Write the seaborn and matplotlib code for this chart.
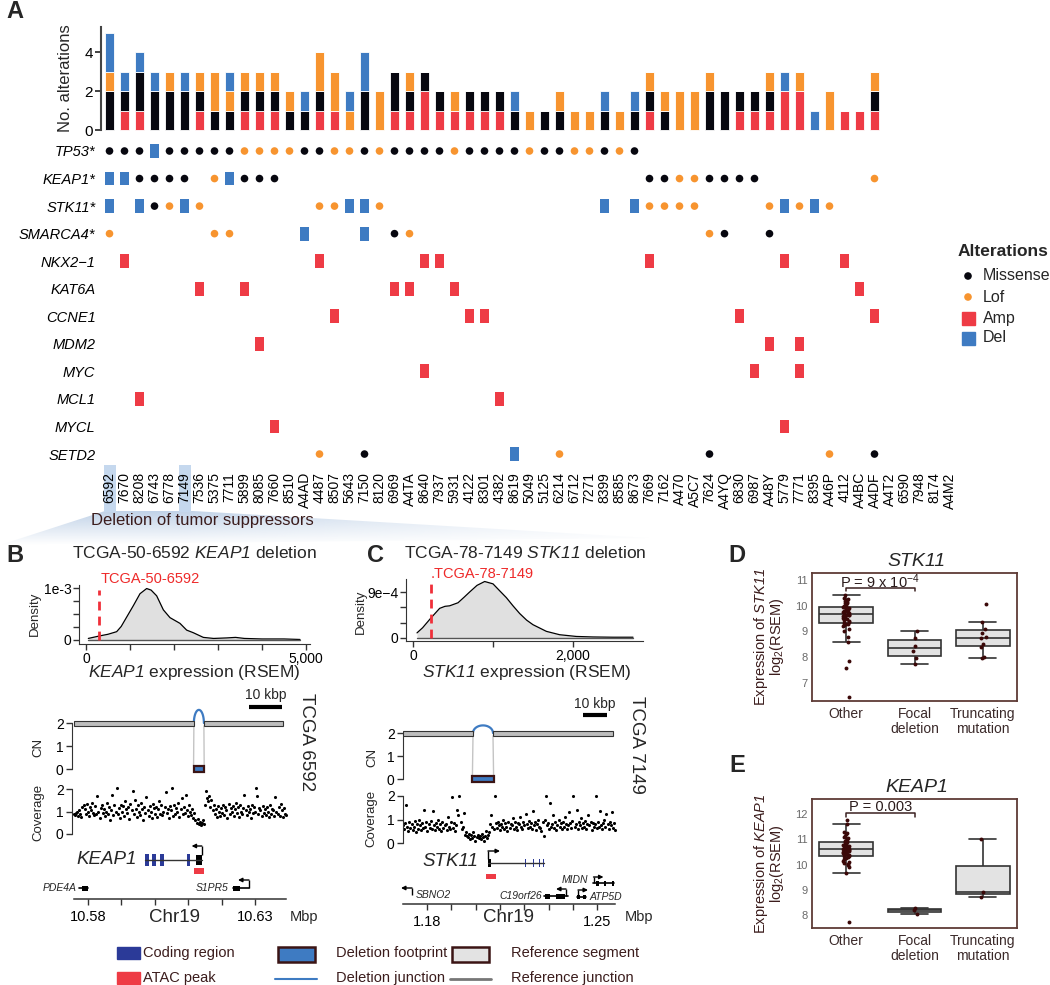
import numpy as np
import pandas as pd
import matplotlib
matplotlib.use("Agg")
import matplotlib.pyplot as plt
import seaborn as sns
from matplotlib.patches import Rectangle, Polygon
from matplotlib.path import Path
from matplotlib import font_manager

# ======================= DATA =======================
# ---- Panel A ----
samples = ["6592", "7670", "8208", "6743", "6778", "7149", "7536", "5375", "7711", "5899",
           "8085", "7660", "8510", "A4AD", "4487", "8507", "5643", "7150", "8120", "6969",
           "A4TA", "8640", "7937", "5931", "4122", "8301", "4382", "8619", "5049", "5125",
           "6214", "6712", "7271", "8399", "8585", "8673", "7669", "7162", "A470", "A5C7",
           "7624", "A4YQ", "6830", "6987", "A48Y", "5779", "7771", "8395", "A46P", "4112",
           "A4BC", "A4DF", "A4T2", "6590", "7948", "8174", "A4M2"]
amp_n = [0, 1, 1, 0, 0, 0, 1, 0, 0, 1, 1, 1, 0, 0, 1, 1, 0, 0, 0, 1,
         1, 2, 1, 1, 1, 1, 1, 0, 0, 0, 0, 0, 0, 0, 0, 0, 1, 0, 0, 0,
         0, 0, 1, 1, 1, 2, 2, 0, 0, 1, 1, 1, 0, 0, 0, 0, 0]
mis_n = [2, 1, 2, 2, 2, 2, 1, 1, 1, 1, 1, 1, 1, 1, 1, 0, 0, 2, 0, 2,
         1, 1, 1, 0, 1, 1, 1, 1, 0, 1, 1, 0, 0, 1, 0, 1, 1, 1, 0, 0,
         2, 2, 1, 1, 1, 0, 0, 0, 0, 0, 0, 1, 0, 0, 0, 0, 0]
lof_n = [1, 0, 0, 0, 1, 0, 1, 2, 1, 1, 1, 1, 1, 0, 2, 2, 1, 0, 2, 0,
         1, 0, 0, 1, 0, 0, 0, 0, 1, 0, 1, 1, 1, 0, 1, 0, 1, 1, 2, 2,
         1, 0, 0, 0, 1, 0, 1, 0, 2, 0, 0, 1, 0, 0, 0, 0, 0]
del_n = [2, 1, 1, 1, 0, 1, 0, 0, 1, 0, 0, 0, 0, 1, 0, 0, 1, 2, 0, 0,
         0, 0, 0, 0, 0, 0, 0, 1, 0, 0, 0, 0, 0, 1, 0, 1, 0, 0, 0, 0,
         0, 0, 0, 0, 0, 1, 0, 1, 0, 0, 0, 0, 0, 0, 0, 0, 0]
highlight_samples = ["6592", "7149"]
onco_genes = ["TP53*", "KEAP1*", "STK11*", "SMARCA4*", "NKX2\u22121", "KAT6A",
              "CCNE1", "MDM2", "MYC", "MCL1", "MYCL", "SETD2"]
# M = missense, L = loss of function, A = amplification, D = deletion
onco_calls = [
    "MMMDMMMMML" "LLLMMLLMLM" "MMMLMMMMLM" "MLLMLM...." ".........." ".......",
    "DDMMMM.LDM" "MM........" ".........." "......MMLL" "MMMM......" ".L.....",
    "D.DMLDL..." "....LLDDL." ".........." "...D.DLLLL" "....LDLDL." ".......",
    "L......LL." "...D...D.M" "L........." ".........." "LM..M....." ".......",
    ".A........" "....A....." ".AA......." "......A..." ".....A...A" ".......",
    "......A..A" ".........A" "A..A......" ".........." ".........." "A......",
    ".........." ".....A...." "....AA...." ".........." "..A......." ".A.....",
    ".........." "A........." ".........." ".........." "....A.A..." ".......",
    ".........." ".........." ".A........" ".........." "...A..A..." ".......",
    "..A......." ".........." "......A..." ".........." ".........." ".......",
    ".........." ".A........" ".........." ".........." ".....A...." ".......",
    ".........." "....L..M.." ".......D.." "L........." "M.......L." ".M.....",
]

# ---- Panel B / C density (expression in RSEM, density values) ----
keap1_expr = [53, 318, 500, 697, 800, 924, 1076, 1227, 1379, 1480, 1606, 1758, 1909,
              2136, 2288, 2439, 2667, 2900, 3200, 3400, 3600, 4000, 4500, 4864]
keap1_dens = [0.03, 0.08, 0.11, 0.16, 0.26, 0.44, 0.66, 0.89, 0.99, 0.96, 0.85, 0.58, 0.43,
              0.32, 0.19, 0.14, 0.05, 0.03, 0.04, 0.05, 0.03, 0.02, 0.02, 0.01]  # x1e-3
keap1_sample = 300
stk11_expr = [50, 120, 221, 333, 400, 458, 563, 640, 708, 800, 896, 1000, 1080, 1167, 1250,
              1333, 1420, 1500, 1667, 1833, 2042, 2250, 2500, 2750]
stk11_dens = [1.0, 2.0, 3.86, 5.8, 6.2, 6.3, 6.9, 8.0, 9.0, 10.3, 11.06, 10.6, 9.3, 7.9, 6.3,
              4.8, 3.5, 2.6, 1.3, 0.64, 0.3, 0.2, 0.15, 0.15]  # x1e-4
stk11_sample = 225

# ---- genomic tracks (Mbp) ----
keap1_ref_segments = [(10.5758, 10.6117), (10.6147, 10.6384)]
keap1_deletion = (10.6117, 10.6147)
stk11_ref_segments = [(1.17012, 1.19893), (1.20716, 1.25654)]
stk11_deletion = (1.19893, 1.20716)

cov_B = [0.9, 0.85, 0.95, 1.0, 0.8, 1.05, 0.9, 0.75, 1.2, 1.3,
         1.1, 0.9, 1.35, 1.0, 0.8, 1.2, 1.05, 1.4, 0.95, 0.85,
         1.25, 0.9, 1.7, 1.0, 0.7, 1.15, 1.3, 0.95, 1.1, 0.8,
         1.0, 1.4, 0.9, 1.2, 0.6, 1.05, 1.75, 0.85, 1.3, 1.0,
         2.05, 0.9, 1.15, 0.7, 1.3, 1.0, 1.25, 0.8, 1.45, 1.1,
         0.95, 1.2, 0.65, 1.35, 1.05, 1.9, 0.9, 1.5, 1.1, 0.75,
         1.3, 1.0, 0.85, 1.4, 1.1, 0.6, 1.2, 0.95, 1.65, 1.05,
         0.8, 1.25, 1.0, 0.7, 1.35, 1.15, 0.9, 1.2, 0.75, 1.1,
         1.45, 0.9, 1.3, 0.85, 1.0, 1.2, 1.85, 0.95, 1.1, 0.7,
         1.25, 1.05, 2.05, 0.8, 1.3, 0.9, 1.15, 1.0, 1.4, 0.75,
         1.1, 1.6, 0.9, 1.2, 0.95, 1.75, 1.05, 0.8, 1.3, 1.0,
         0.85, 1.1, 0.7, 0.95, 0.6, 0.5, 0.65, 0.45, 0.55, 0.4,
         0.5, 0.6, 0.45, 1.3, 1.9, 1.6, 1.45, 1.7, 1.2, 1.5,
         1.05, 1.3, 0.9, 1.1, 0.75, 1.25, 1.0, 0.8, 1.15, 0.95,
         1.3, 0.85, 1.2, 1.05, 0.7, 1.35, 0.9, 1.15, 1.0, 1.25,
         0.8, 1.1, 1.4, 0.95, 1.2, 0.75, 1.3, 1.0, 0.9, 1.15,
         1.75, 1.05, 0.85, 1.25, 1.0, 1.1, 0.7, 1.3, 0.95, 1.2,
         1.0, 2.05, 1.7, 0.9, 1.15, 1.05, 0.8, 1.25, 0.95, 1.1,
         0.85, 1.2, 1.0, 0.75, 1.3, 0.9, 1.1, 1.05, 0.8, 1.65,
         1.0, 0.9, 1.2, 0.8, 1.35, 1.05, 0.75, 1.15, 0.9, 0.85]
cov_B_range = (10.5758, 10.6393)
cov_C = [0.75, 0.6, 0.85, 1.6, 0.7, 0.5, 0.9, 0.65, 0.8, 0.55,
         0.7, 0.95, 0.45, 0.8, 0.6, 1.0, 0.75, 0.55, 0.85, 0.65,
         1.4, 0.7, 0.9, 0.5, 0.8, 0.65, 0.95, 0.6, 1.35, 0.75,
         0.55, 0.85, 0.7, 1.0, 0.6, 0.8, 0.5, 0.9, 0.65, 0.75,
         0.8, 0.55, 1.1, 0.7, 0.6, 0.9, 1.95, 0.65, 0.85, 0.5,
         0.75, 1.4, 1.2, 2.0, 0.9, 0.6, 0.7, 1.27, 0.35, 0.45,
         0.3, 0.25, 0.4, 0.15, 0.35, 0.2, 0.45, 0.3, 0.1, 0.25,
         0.35, 0.2, 0.3, 0.15, 0.4, 0.25, 0.1, 0.3, 0.5, 0.2,
         0.35, 0.45, 0.8, 1.2, 0.7, 0.6, 2.0, 0.85, 0.65, 0.9,
         0.75, 0.55, 0.8, 0.7, 1.0, 0.6, 0.85, 0.7, 0.5, 0.9,
         0.65, 0.8, 0.75, 1.05, 0.6, 0.9, 0.7, 0.55, 0.85, 0.8,
         1.1, 0.7, 0.6, 0.9, 0.75, 1.25, 0.8, 0.65, 0.95, 0.7,
         0.85, 0.6, 1.35, 0.75, 0.9, 0.55, 0.8, 1.0, 0.7, 0.65,
         0.5, 0.9, 0.3, 1.0, 2.0, 0.75, 0.85, 0.6, 1.7, 0.7,
         0.8, 1.2, 0.65, 0.9, 0.55, 0.75, 1.0, 0.7, 0.85, 0.6,
         0.9, 0.7, 1.1, 0.8, 0.6, 0.75, 1.3, 0.85, 0.65, 0.95,
         2.0, 0.7, 0.8, 1.4, 0.6, 0.9, 0.75, 1.05, 0.65, 0.85,
         0.7, 0.95, 0.6, 0.8, 1.2, 0.75, 0.9, 0.55, 0.85, 0.7,
         0.8, 2.0, 0.65, 0.9, 0.7, 1.35, 0.75, 0.6, 0.85, 1.0,
         0.7, 1.25, 0.8, 0.6, 0.9, 0.75, 1.3, 0.65, 0.85, 0.55]
cov_C_range = (1.17012, 1.25737)

# gene models (Mbp)
keap1_body = (10.5972, 10.6141)
keap1_exons = [(10.59719, 10.59823), (10.59916, 10.60048), (10.60141, 10.60272), (10.6097, 10.61063)]
keap1_utr = (10.61234, 10.61407)
keap1_atac = (10.6117, 10.6146)
pde4a_body = (10.5773, 10.5800)
s1pr5_body = (10.62356, 10.6282)
stk11_body = (1.2051, 1.22815)
stk11_exons = [1.20593, 1.21827, 1.21951, 1.22053, 1.22156, 1.22280, 1.22383, 1.22630, 1.22795]
stk11_utr = (1.20510, 1.20634)
stk11_atac = (1.20428, 1.20823)
c19orf26_body = (1.22815, 1.23802)
atp5d_body = (1.24173, 1.24543)
midn_body = (1.24811, 1.25716)

# ---- Panels D / E ----
groups = ["Other", "Focal\ndeletion", "Truncating\nmutation"]
stk11_other = [6.45, 7.6, 7.85, 8.6, 8.8, 9.0, 9.1, 9.2, 9.25, 9.28, 9.3, 9.32, 9.35, 9.4, 9.45,
               9.5, 9.52, 9.55, 9.6, 9.62, 9.64, 9.65, 9.66, 9.7, 9.72, 9.75, 9.78, 9.8, 9.82,
               9.85, 9.88, 9.9, 9.92, 9.95, 9.97, 10.0, 10.05, 10.1, 10.12, 10.15, 10.2, 10.22,
               10.25, 10.3, 10.4]
stk11_focal = [7.75, 7.98, 8.25, 8.45, 8.75, 9.0]
stk11_trunc = [7.98, 8.0, 8.4, 8.5, 8.75, 8.78, 8.95, 9.1, 9.35, 10.05]
keap1_other = [7.7, 9.66, 9.9, 10.0, 10.02, 10.05, 10.1, 10.15, 10.2, 10.25, 10.3, 10.32, 10.35,
               10.38, 10.4, 10.42, 10.45, 10.48, 10.5, 10.52, 10.55, 10.56, 10.58, 10.6, 10.6,
               10.62, 10.63, 10.65, 10.66, 10.68, 10.7, 10.72, 10.74, 10.76, 10.78, 10.82, 10.86,
               10.88, 10.9, 10.92, 10.95, 11.0, 11.05, 11.1, 11.15, 11.2, 11.25, 11.3, 11.6, 11.75]
keap1_focal = [8.05, 8.2, 8.27]
keap1_trunc = [8.72, 8.92, 11.0]

# ======================= STYLE =======================
sns.set_style("ticks")
_names = {f.name for f in font_manager.fontManager.ttflist}
NARROW = "Liberation Sans Narrow" if "Liberation Sans Narrow" in _names else "Liberation Sans"
plt.rcParams.update({
    "font.family": ["Liberation Sans", "DejaVu Sans"],
    "mathtext.fontset": "custom",
    "mathtext.rm": "Liberation Sans",
    "mathtext.it": "Liberation Sans:italic",
    "mathtext.sf": "Liberation Sans:italic",
    "mathtext.bf": "Liberation Sans:bold",
    "axes.facecolor": "none",
    "figure.facecolor": "white",
    "axes.edgecolor": "#333333",
    "xtick.color": "#333333",
    "ytick.color": "#333333",
    "xtick.labelcolor": "black",
    "ytick.labelcolor": "black",
})

C_MIS, C_LOF, C_AMP, C_DEL = "#07070f", "#f7942f", "#ee3b45", "#3e7bc2"
C_CODING = "#2b3a98"
BROWN = "#3b1c1c"

W, H = 1050, 985
fig = plt.figure(figsize=(W / 100, H / 100), dpi=100)


def axpx(x0, y0, x1, y1, **kw):
    return fig.add_axes([x0 / W, 1 - y1 / H, (x1 - x0) / W, (y1 - y0) / H], **kw)


def ftext(x, y, s, **kw):
    kw.setdefault("ha", "center")
    kw.setdefault("va", "center")
    return fig.text(x / W, 1 - y / H, s, **kw)


bg = axpx(0, 0, W, H)
bg.set_zorder(-5)
bg.axis("off")

# ---------------- Panel A ----------------
col0, dcol = 109.5, 15.0
A_X0, A_X1 = 101, 956
a_xlim = ((A_X0 - col0) / dcol, (A_X1 - col0) / dcol)
idx = np.arange(len(samples))

axb = axpx(A_X0, 27, A_X1, 131)
bottom = np.zeros(len(samples))
for vals, col in [(amp_n, C_AMP), (mis_n, C_MIS), (lof_n, C_LOF), (del_n, C_DEL)]:
    v = np.array(vals, dtype=float)
    axb.bar(idx, v, bottom=bottom, width=0.56, color=col, edgecolor="white", linewidth=0.6)
    bottom += v
axb.set_xlim(*a_xlim)
axb.set_ylim(-0.05, 5.31)
for s in ["top", "right", "bottom"]:
    axb.spines[s].set_visible(False)
axb.spines["left"].set_bounds(0, 5.31)
axb.spines["left"].set_linewidth(1.5)
axb.spines["left"].set_color("#444444")
axb.set_xticks([])
axb.set_yticks([0, 2, 4])
axb.tick_params(axis="y", labelsize=11, length=4, width=1.3, pad=2)
ftext(65, 78, "No. alterations", rotation=90, fontsize=12)

# oncoprint
axo = axpx(A_X0, 137, A_X1, 468)
rec = []
for k, calls in enumerate(onco_calls):
    for i, c in enumerate(calls):
        if c != ".":
            rec.append((i, k, c))
onco = pd.DataFrame(rec, columns=["col", "row", "alt"])
dots = onco[onco.alt.isin(["M", "L"])]
sns.scatterplot(data=dots, x="col", y="row", hue="alt", palette={"M": C_MIS, "L": C_LOF},
                s=30, linewidth=0, legend=False, ax=axo)
RECT = Path([(-0.3, -0.5), (0.3, -0.5), (0.3, 0.5), (-0.3, 0.5), (-0.3, -0.5)],
            [Path.MOVETO, Path.LINETO, Path.LINETO, Path.LINETO, Path.CLOSEPOLY])
blocks = onco[onco.alt.isin(["A", "D"])]
sns.scatterplot(data=blocks, x="col", y="row", hue="alt", palette={"A": C_AMP, "D": C_DEL},
                marker=RECT, s=100, linewidth=0, legend=False, ax=axo)
row_step = 27.55
axo.set_xlim(*a_xlim)
axo.set_ylim((468 - 151) / row_step, (137 - 151) / row_step)
for s in axo.spines.values():
    s.set_visible(False)
axo.set_yticks(range(len(onco_genes)))
axo.set_yticklabels(onco_genes, fontstyle="italic", fontsize=10.5)
axo.set_xticks(idx)
axo.set_xticklabels(samples, rotation=90, fontsize=10)
axo.tick_params(length=0)
axo.tick_params(axis="y", pad=4)
axo.tick_params(axis="x", pad=3)
axo.set_xlabel("")
axo.set_ylabel("")

# highlight boxes behind sample labels
for sname in highlight_samples:
    cx = col0 + dcol * samples.index(sname)
    bg.add_patch(Rectangle((cx - 6, 465), 12.5, 47, color="#c5d8ee", lw=0, zorder=2))

# gradient shading "Deletion of tumor suppressors"
grad = np.zeros((60, 200, 4))
rgb = matplotlib.colors.to_rgb("#bccfe6")
grad[..., 0], grad[..., 1], grad[..., 2] = rgb
vert = np.linspace(0.95, 0.0, 60)[:, None]
horiz = np.clip(np.linspace(1.3, 0.2, 200), 0, 1)[None, :]
grad[..., 3] = vert * horiz
im = bg.imshow(grad, extent=(0, 650, 545, 510), aspect="auto", interpolation="bilinear", zorder=1)
poly = Polygon([(105, 511), (193, 511), (650, 538), (0, 545)], closed=True,
               transform=bg.transData, facecolor="none", edgecolor="none")
bg.add_patch(poly)
im.set_clip_path(poly)
bg.set_xlim(0, W)
bg.set_ylim(H, 0)
ftext(91, 521, "Deletion of tumor suppressors", ha="left", fontsize=12, color=BROWN)

# Alterations legend
ftext(958, 252, "Alterations", ha="left", fontsize=12.5, fontweight="bold")
bg.scatter([968, 968], [276, 297], c=[C_MIS, C_LOF], s=30, linewidths=0, zorder=3)
bg.add_patch(Rectangle((961.5, 311.5), 13, 13, color=C_AMP, zorder=3))
bg.add_patch(Rectangle((961.5, 331.5), 13, 13, color=C_DEL, zorder=3))
for yy, lab in zip([276, 297, 318, 338], ["Missense", "Lof", "Amp", "Del"]):
    ftext(983, yy, lab, ha="left", fontsize=11.5)

# ---------------- density panels ----------------
def density_panel(box, xlim, ylim, ex, dens, sample_val, line_top, yticks, ylabels,
                  xticks, xlabels):
    ax = axpx(*box)
    ax.fill_between(ex, 0, dens, color="#e0e0e0", lw=0)
    sns.lineplot(x=ex, y=dens, color="black", lw=0.9, sort=False, estimator=None, ax=ax)
    ax.plot([ex[0], ex[-1]], [0, 0], color="#555555", lw=1)
    ax.plot([sample_val, sample_val], [0, line_top], color="#f0303a", lw=2,
            ls=(0, (3.2, 2.2)))
    ax.set_xlim(*xlim)
    ax.set_ylim(*ylim)
    ax.spines["top"].set_visible(False)
    ax.spines["right"].set_visible(False)
    ax.set_yticks(yticks)
    ax.set_yticklabels(ylabels)
    ax.set_xticks(xticks)
    ax.set_xticklabels(xlabels)
    ax.tick_params(labelsize=10, length=4, width=1, pad=1.5)
    ax.set_xlabel("")
    ax.set_ylabel("")
    return ax


kd = np.array(keap1_dens) * 1e-3
density_panel((79, 585, 310, 644), (-159, 5091), (-0.077e-3, 1.058e-3), keap1_expr, kd,
              keap1_sample, 0.97e-3, [0, 0.25e-3, 0.5e-3, 0.75e-3, 1e-3],
              ["0", "", "", "", "1e-3"],
              [0, 1000, 2000, 3000, 4000, 5000], ["0", "", "", "", "", "5,000"])
sd = np.array(stk11_dens) * 1e-4
density_panel((406, 579, 643, 641), (-87.5, 2875), (-0.059e-3, 1.155e-3), stk11_expr, sd,
              stk11_sample, 1.12e-3, [0, 3e-4, 6e-4, 9e-4], ["0", "", "", "9e\u22124"],
              [0, 1000, 2000], ["0", "", "2,000"])

ftext(194, 553, r"TCGA-50-6592 $\mathsf{KEAP1}$ deletion", fontsize=12.5)
ftext(525, 553, r"TCGA-78-7149 $\mathsf{STK11}$ deletion", fontsize=12.5)
ftext(101, 579, "TCGA-50-6592", ha="left", fontsize=10.5, color="#ee2a2a")
ftext(431, 574, ".TCGA-78-7149", ha="left", fontsize=10.5, color="#ee2a2a")
ftext(35, 614, "Density", rotation=90, fontsize=9.5)
ftext(361, 612, "Density", rotation=90, fontsize=9.5)
ftext(194, 672, r"$\mathsf{KEAP1}$ expression (RSEM)", fontsize=12.5)
ftext(527, 672, r"$\mathsf{STK11}$ expression (RSEM)", fontsize=12.5)

# ---------------- CN / coverage / genes ----------------
def left_axis(ax, ticks):
    for s in ["top", "right", "bottom"]:
        ax.spines[s].set_visible(False)
    ax.spines["left"].set_bounds(ticks[0], ticks[-1])
    ax.set_xticks([])
    ax.set_yticks(ticks)
    ax.tick_params(axis="y", labelsize=10, length=4, width=1, pad=2)


def cn_panel(box, xlim, segs, dele, arc_h, bar_txt, bar_x):
    ax = axpx(*box)
    ax.set_xlim(*xlim)
    ax.set_ylim(-0.304, 3.0)
    left_axis(ax, [0, 1, 2])
    for a, b in segs:
        ax.add_patch(Rectangle((a, 1.87), b - a, 0.22, facecolor="#bdbdbd",
                               edgecolor="#333333", lw=0.8, zorder=3))
    a, b = dele
    t = np.linspace(0, np.pi, 60)
    ax.plot((a + b) / 2 + (b - a) / 2 * np.cos(t), 2.0 + arc_h * np.sin(t),
            color=C_DEL, lw=1.6, zorder=2)
    pad = (b - a) * 0.03
    ax.plot([a, a - pad], [1.87, 0.12], color="#c4c4c4", lw=1)
    ax.plot([b, b + pad], [1.87, 0.12], color="#c4c4c4", lw=1)
    ax.add_patch(Rectangle((a - pad, -0.15), (b - a) + 2 * pad, 0.28, facecolor=C_DEL,
                           edgecolor="#3b1414", lw=1.6, zorder=3))
    ax.plot([bar_x, bar_x + 0.010], [bar_txt, bar_txt], color="black", lw=3,
            solid_capstyle="butt", clip_on=False)
    ax.text(bar_x + 0.005, bar_txt + 0.5, "10 kbp", ha="center", va="center",
            fontsize=10, clip_on=False)
    return ax


xB = (10.57521, 10.64108)
xC = (1.170123, 1.259424)
axcnB = cn_panel((72, 700, 292, 776), xB, keap1_ref_segments, keap1_deletion, 0.57, 2.7, 10.6282)
axcnC = cn_panel((403, 710, 620, 786), xC, stk11_ref_segments, stk11_deletion, 0.33, 2.78, 1.2442)


def cov_panel(box, xlim, ylim, cov, rng):
    ax = axpx(*box)
    pos = np.linspace(rng[0], rng[1], len(cov))
    sns.scatterplot(x=pos, y=cov, s=5, color="black", linewidth=0, ax=ax)
    ax.set_xlim(*xlim)
    ax.set_ylim(*ylim)
    left_axis(ax, [0, 1, 2])
    ax.set_xlabel("")
    ax.set_ylabel("")
    return ax


cov_panel((72, 785, 292, 838), xB, (-0.178, 2.178), cov_B, cov_B_range)
cov_panel((403, 792, 620, 847), xC, (-0.17, 2.17), cov_C, cov_C_range)

ftext(38, 747, "CN", rotation=90, fontsize=9.5)
ftext(372, 757, "CN", rotation=90, fontsize=9.5)
ftext(38, 812, "Coverage", rotation=90, fontsize=9.5)
ftext(371, 818, "Coverage", rotation=90, fontsize=9.5)
ftext(306, 742, "TCGA 6592", rotation=-90, fontsize=13.5)
ftext(636, 745, "TCGA 7149", rotation=-90, fontsize=13.5)


def gene_axis(box, xlim, rng, ticks, labels):
    ax = axpx(*box)
    ax.set_xlim(*xlim)
    ax.set_ylim(0, 59)
    for s in ["top", "right", "left"]:
        ax.spines[s].set_visible(False)
    ax.spines["bottom"].set_bounds(*rng)
    ax.spines["bottom"].set_linewidth(1.1)
    ax.set_yticks([])
    ax.set_xticks(ticks)
    ax.set_xticklabels(labels)
    ax.tick_params(axis="x", labelsize=10.5, length=4, width=1, pad=4)
    return ax


def tss_arrow(ax, x, y0, y1, x_end, lw=1.0):
    ax.plot([x, x], [y0, y1], color="black", lw=lw, clip_on=False, solid_capstyle="butt")
    ax.annotate("", xy=(x_end, y1), xytext=(x, y1),
                arrowprops=dict(arrowstyle="-|>", color="black", lw=lw, shrinkA=0,
                                shrinkB=0, mutation_scale=6), annotation_clip=False)


gB = gene_axis((72, 840, 292, 899), xB, cov_B_range,
               [10.58, 10.59, 10.60, 10.61, 10.62, 10.63], ["10.58", "", "", "", "", "10.63"])
gB.plot(keap1_body, [39, 39], color="#333333", lw=1)
for a, b in keap1_exons:
    gB.add_patch(Rectangle((a, 33), b - a, 12, color=C_CODING, lw=0))
gB.add_patch(Rectangle((keap1_utr[0], 34), keap1_utr[1] - keap1_utr[0], 10, color="black", lw=0))
tss_arrow(gB, keap1_utr[1], 44, 53, 10.61102)
gB.add_patch(Rectangle((keap1_atac[0], 25), keap1_atac[1] - keap1_atac[0], 6, color=C_AMP, lw=0))
gB.text(10.5946, 39, "KEAP1", ha="right", va="center", fontsize=13.5, fontstyle="italic")
gB.plot(pde4a_body, [11, 11], color="black", lw=1.2)
gB.add_patch(Rectangle((10.5782, 8.5), 0.0018, 5, color="black", lw=0))
gB.text(10.5767, 11, "PDE4A", ha="right", va="center", fontsize=7.5, fontstyle="italic",
        clip_on=False)
gB.plot(s1pr5_body, [11, 11], color="black", lw=1.2)
gB.add_patch(Rectangle((s1pr5_body[0], 8.5), 0.0019, 5, color="black", lw=0))
tss_arrow(gB, s1pr5_body[1], 11, 19, 10.62491)
gB.text(10.62192, 11, "S1PR5", ha="right", va="center", fontsize=7.5, fontstyle="italic")
ftext(175, 917, "Chr19", fontsize=13.5)
ftext(304, 917, "Mbp", fontsize=10.5)

gC = gene_axis((403, 845, 620, 904), xC, cov_C_range,
               [1.18, 1.19, 1.20, 1.21, 1.22, 1.23, 1.24, 1.25],
               ["1.18", "", "", "", "", "", "", "1.25"])
gC.plot(stk11_body, [41, 41], color="#333333", lw=1)
for e in stk11_exons:
    gC.add_patch(Rectangle((e - 0.0002, 37), 0.0004, 8, color=C_CODING, lw=0))
gC.add_patch(Rectangle((stk11_utr[0], 37), stk11_utr[1] - stk11_utr[0], 8, color="black", lw=0))
tss_arrow(gC, stk11_body[0], 45, 53, 1.21004)
gC.add_patch(Rectangle((stk11_atac[0], 25), stk11_atac[1] - stk11_atac[0], 5, color=C_AMP, lw=0))
gC.text(1.20099, 42, "STK11", ha="right", va="center", fontsize=13.5, fontstyle="italic")
# SBNO2 (TSS just inside the window)
tss_arrow(gC, 1.17383, 9, 16, 1.1693)
gC.text(1.17547, 9, "SBNO2", ha="left", va="center", fontsize=7.5, fontstyle="italic")
# C19orf26
gC.plot(c19orf26_body, [8, 8], color="black", lw=1.2)
gC.add_patch(Rectangle((1.22856, 5.5), 0.0021, 5, color="black", lw=0))
gC.add_patch(Rectangle((1.23309, 5.5), 0.0037, 5, color="black", lw=0))
tss_arrow(gC, 1.2372, 8, 15, 1.23309)
gC.text(1.22733, 8, "C19orf26", ha="right", va="center", fontsize=7.5, fontstyle="italic")
# ATP5D
gC.plot(atp5d_body, [7, 7], color="black", lw=1.2)
gC.add_patch(Rectangle((1.24173, 5), 0.0012, 4, color="black", lw=0))
gC.add_patch(Rectangle((1.24420, 5), 0.0012, 4, color="black", lw=0))
tss_arrow(gC, 1.24214, 7, 14, 1.24626)
gC.text(1.24708, 7, "ATP5D", ha="left", va="center", fontsize=7.5, fontstyle="italic")
# MIDN
gC.plot(midn_body, [21, 21], color="black", lw=1.2)
gC.add_patch(Rectangle((1.24955, 18.5), 0.0012, 5, color="black", lw=0))
gC.add_patch(Rectangle((1.25284, 18.5), 0.0010, 5, color="black", lw=0))
gC.add_patch(Rectangle((1.25600, 18.5), 0.0011, 5, color="black", lw=0))
tss_arrow(gC, 1.24853, 21, 27, 1.25263)
gC.text(1.24626, 24, "MIDN", ha="right", va="center", fontsize=7.5, fontstyle="italic")
ftext(509, 917, "Chr19", fontsize=13.5)
ftext(639, 917, "Mbp", fontsize=10.5)

# bottom legend
bg.add_patch(Rectangle((117, 947), 23, 12, color=C_CODING, zorder=3))
bg.add_patch(Rectangle((117, 972), 23, 12, color=C_AMP, zorder=3))
bg.add_patch(Rectangle((278, 947), 37, 15, facecolor=C_DEL, edgecolor="#3b1414", lw=1.8, zorder=3))
bg.plot([275, 317], [979, 979], color=C_DEL, lw=1.5, zorder=3)
bg.add_patch(Rectangle((452, 947), 37, 15, facecolor="#e3e3e3", edgecolor="#3b1414", lw=1.8, zorder=3))
bg.plot([450, 491], [979, 979], color="#777777", lw=2, zorder=3)
for (xx, yy), lab in zip([(143, 953), (143, 978), (336, 953), (336, 978), (511, 953), (511, 978)],
                         ["Coding region", "ATAC peak", "Deletion footprint", "Deletion junction",
                          "Reference segment", "Reference junction"]):
    ftext(xx, yy, lab, ha="left", fontsize=10.5, color=BROWN, family=NARROW)

# ---------------- Panels D / E ----------------
def box_panel(box, other, focal, trunc, ylim, yticks, pbar, ptxt, plabel):
    ax = axpx(*box)
    df = pd.DataFrame({
        "grp": [groups[0]] * len(other) + [groups[1]] * len(focal) + [groups[2]] * len(trunc),
        "val": list(other) + list(focal) + list(trunc)})
    sns.boxplot(data=df, x="grp", y="val", order=groups, width=0.79, color="#e3e3e3",
                saturation=1, linecolor="#333333", linewidth=1.2, showfliers=False, ax=ax)
    np.random.seed(4)
    sns.stripplot(data=df, x="grp", y="val", order=groups, color="#3b0808", size=2.8,
                  jitter=0.05, ax=ax, zorder=4)
    ax.set_ylim(*ylim)
    ax.set_yticks(yticks)
    ax.set_xlim(-0.5, 2.5)
    for s in ax.spines.values():
        s.set_visible(True)
        s.set_color("#5e3b36")
        s.set_linewidth(1.3)
    ax.tick_params(axis="y", length=0, labelsize=8, labelcolor="#6a6a6a", pad=3)
    ax.tick_params(axis="x", length=0, labelsize=10, labelcolor="#3b2a2a", pad=4)
    for lab in ax.get_xticklabels():
        lab.set_family(NARROW)
        lab.set_linespacing(1.1)
    ax.set_xlabel("")
    ax.set_ylabel("")
    lo, hi = pbar
    ax.plot([0, 0, 1, 1], [lo, hi, hi, lo], color="#3b2020", lw=1.1)
    ax.text(0.5, ptxt, plabel, ha="center", va="center", fontsize=10.5, color="#2a1a1a",
            family=NARROW)
    return ax


box_panel((812, 573, 1017, 701), stk11_other, stk11_focal, stk11_trunc, (6.3, 11.27),
          [7, 8, 9, 10, 11], (10.58, 10.7), 10.93, r"P = 9 x 10$^{-4}$")
box_panel((812, 799, 1017, 928), keap1_other, keap1_focal, keap1_trunc, (7.48, 12.6),
          [8, 9, 10, 11, 12], (11.88, 12.04), 12.3, "P = 0.003")

ftext(917, 562, "STK11", fontsize=14, fontstyle="italic")
ftext(917, 787, "KEAP1", fontsize=14, fontstyle="italic")
ftext(761, 637, r"Expression of $\mathsf{STK11}$", rotation=90, fontsize=10.5, color=BROWN)
ftext(777, 637, r"log$_2$(RSEM)", rotation=90, fontsize=10.5, color=BROWN)
ftext(761, 864, r"Expression of $\mathsf{KEAP1}$", rotation=90, fontsize=10.5, color=BROWN)
ftext(777, 864, r"log$_2$(RSEM)", rotation=90, fontsize=10.5, color=BROWN)

# panel letters
for xx, yy, lab in [(15, 11, "A"), (15, 555, "B"), (376, 555, "C"), (737, 555, "D"), (737, 765, "E")]:
    ftext(xx, yy, lab, fontsize=17, fontweight="bold")

fig.savefig("out.png", dpi=100)
